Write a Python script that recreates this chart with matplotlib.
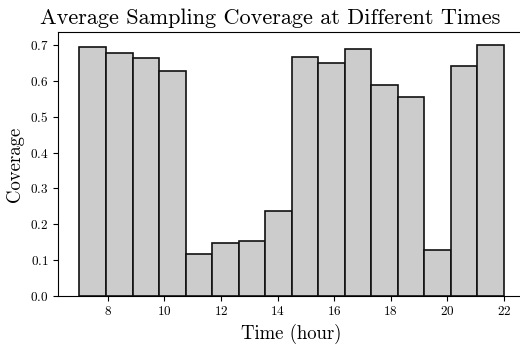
import matplotlib
matplotlib.use('Agg')
import matplotlib.pyplot as plt
import numpy as np

plt.rcParams['font.family'] = 'serif'
plt.rcParams['font.serif'] = ['cmr10']
plt.rcParams['mathtext.fontset'] = 'cm'
plt.rcParams['axes.formatter.use_mathtext'] = True
plt.rcParams['axes.unicode_minus'] = False

# 16 equal bins between 7h and 22h
start_hour = 7
end_hour = 22
coverage = [0.696, 0.677, 0.663, 0.627, 0.116, 0.148, 0.153, 0.237,
            0.666, 0.651, 0.690, 0.590, 0.556, 0.127, 0.641, 0.701]

edges = np.linspace(start_hour, end_hour, len(coverage) + 1)

fig = plt.figure(figsize=(5.2, 3.46), dpi=100)
ax = fig.add_axes([0.112, 0.1454, 0.898, 0.7612])

ax.hist(edges[:-1], bins=edges, weights=coverage,
        color='#cccccc', edgecolor='#111111', linewidth=1.2)

# axes runs past the right edge, so centre the title on the visible part
ax.set_title('Average Sampling Coverage at Different Times', fontsize=16, x=0.4536)
ax.set_xlabel('Time (hour)', fontsize=13.5)
ax.set_ylabel('Coverage', fontsize=13.5)
ax.tick_params(labelsize=9.5)
ax.set_xticks([8, 10, 12, 14, 16, 18, 20, 22])

fig.savefig('out.png', dpi=100)
